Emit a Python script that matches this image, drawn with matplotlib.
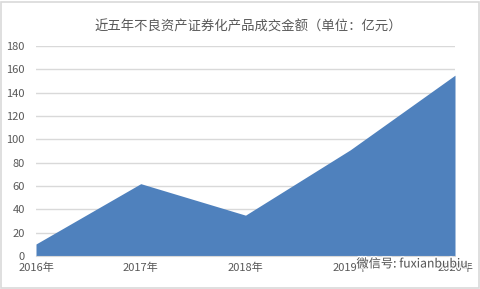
import matplotlib
matplotlib.use("Agg")
import matplotlib.pyplot as plt
import matplotlib.patheffects as pe
from matplotlib.patches import Rectangle

plt.rcParams['font.family'] = ['Noto Sans CJK SC', 'DejaVu Sans']

years = ["2016年", "2017年", "2018年", "2019年", "2020年"]
amounts = [10.3, 62, 35, 91, 155]
y_ticks = [0, 20, 40, 60, 80, 100, 120, 140, 160, 180]
title = "近五年不良资产证券化产品成交金额（单位：亿元）"

W, H = 481, 289
fig = plt.figure(figsize=(W / 100, H / 100), dpi=100)
fig.patch.set_facecolor("white")

# chart frame
fig.add_artist(Rectangle((1 / W, 1 / H), (W - 3) / W, (H - 3) / H,
                         transform=fig.transFigure, fill=False,
                         edgecolor="#d9d9d9", linewidth=1.2))

left, right, top, bottom = 36, 455, 46, 256
ax = fig.add_axes([left / W, 1 - bottom / H, (right - left) / W, (bottom - top) / H])
x = list(range(len(years)))
ax.fill_between(x, amounts, 0, color="#4f81bd", linewidth=0, zorder=2)
ax.set_xlim(0, len(years) - 1)
ax.set_ylim(0, 180)
ax.set_yticks(y_ticks)
ax.set_yticklabels([str(v) for v in y_ticks])
ax.set_xticks(x)
ax.set_xticklabels(years)
ax.grid(axis="y", color="#d9d9d9", linewidth=1, zorder=0)
ax.set_axisbelow(True)
for s in ["top", "right", "left"]:
    ax.spines[s].set_visible(False)
ax.spines["bottom"].set_color("#d9d9d9")
ax.spines["bottom"].set_zorder(3)
ax.tick_params(axis="both", length=0, colors="#595959", labelsize=8)
ax.tick_params(axis="y", pad=8)
ax.tick_params(axis="x", pad=5)

fig.text(0.5 + 8 / W, 1 - 27 / H, title, ha="center", va="center",
         fontsize=9.6, color="#595959")

# watermark
wm = fig.text(412 / W, 1 - 264 / H, "微信号: fuxianbubiu", ha="center", va="center",
              fontsize=8.8, color="#404040", alpha=0.85)
wm.set_path_effects([pe.withStroke(linewidth=2, foreground="white")])

fig.savefig("out.png", dpi=100, facecolor="white")
